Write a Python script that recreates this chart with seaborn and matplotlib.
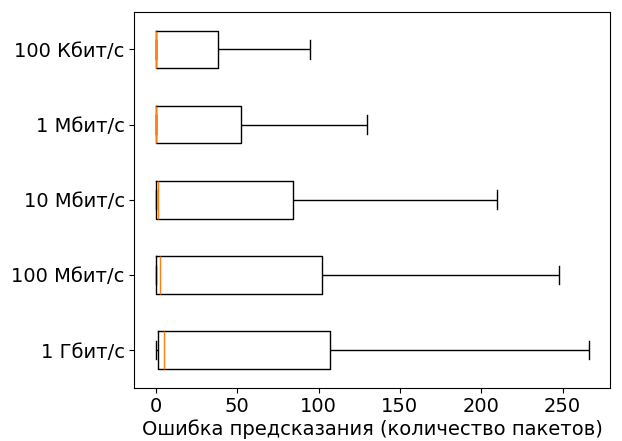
import matplotlib
matplotlib.use("Agg")
import matplotlib.pyplot as plt
import seaborn as sns
import pandas as pd

# Categories (top to bottom)
categories = ["100 Кбит/с", "1 Мбит/с", "10 Мбит/с", "100 Мбит/с", "1 Гбит/с"]
# Five-number summaries: lower whisker, Q1, median, Q3, upper whisker
kbit100 = [0, 0, 0.2, 38, 95]
mbit1 = [0, 0, 0.2, 52, 130]
mbit10 = [0, 0, 1, 84, 210]
mbit100 = [0, 0.3, 2.3, 102, 248]
gbit1 = [0, 1, 5, 107, 266]
xlabel = "Ошибка предсказания (количество пакетов)"

series = [kbit100, mbit1, mbit10, mbit100, gbit1]
rows = []
for cat, vals in zip(categories, series):
    for v in vals:
        rows.append({"rate": cat, "err": v})
df = pd.DataFrame(rows)

plt.rcParams["font.family"] = ["DejaVu Sans"]
fig = plt.figure(figsize=(6.22, 4.41), dpi=100)
ax = fig.add_axes([0.216, 0.121, 0.765, 0.852])

sns.boxplot(
    data=df, x="err", y="rate", order=categories, orient="h",
    color="black", fill=False, width=0.5, linewidth=1.0,
    showfliers=False, whis=1.5, ax=ax,
    medianprops=dict(color="#ff7f0e", linewidth=1.0),
)

ax.set_xlabel(xlabel, fontsize=14, labelpad=2)
ax.set_ylabel("")
ax.tick_params(axis="both", labelsize=14)
for s in ax.spines.values():
    s.set_visible(True)
    s.set_color("black")
    s.set_linewidth(0.8)

fig.savefig("out.png", dpi=100)
